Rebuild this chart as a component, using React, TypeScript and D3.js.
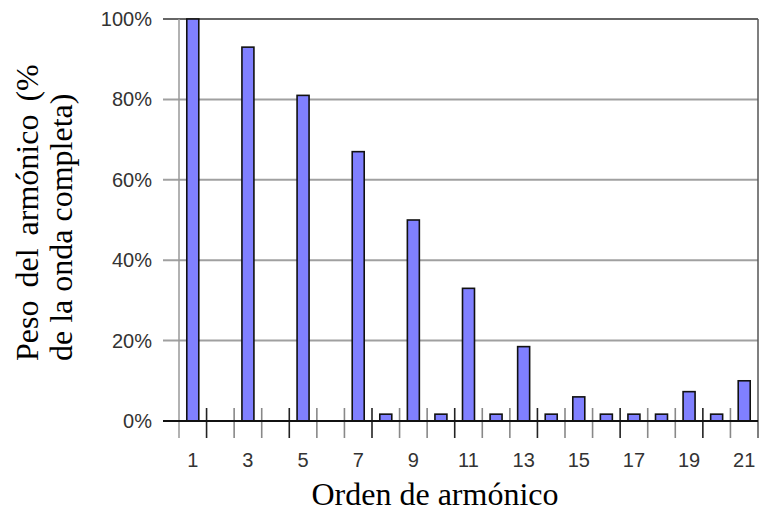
import React from "react";
import * as d3 from "d3";

const harmonics = [1,2,3,4,5,6,7,8,9,10,11,12,13,14,15,16,17,18,19,20,21];
const weights: (number | null)[] = [100, null, 93, null, 81, null, 67, 1.7, 50, 1.7, 33, 1.7, 18.5, 1.7, 6, 1.7, 1.7, 1.7, 7.3, 1.7, 10];
const xTickLabels = [1,3,5,7,9,11,13,15,17,19,21];
const yTicks = [0, 20, 40, 60, 80, 100];
const yTitleLines = ["Peso del armónico (%", "de la onda completa)"];
const xTitle = "Orden de armónico";

export default function App() {
  const W = 760, H = 511;
  const left = 179, right = 758, top = 19, bottom = 421;
  const x = d3.scaleBand<number>().domain(harmonics).range([left, right]).paddingInner(0.565).paddingOuter(0.2825);
  const y = d3.scaleLinear().domain([0, 100]).range([bottom, top]);
  const step = x.step();
  const boundaries = d3.range(1, harmonics.length).map(i => left + i * step);
  const sans = "'Liberation Sans', Arial, sans-serif";
  const serif = "'Liberation Serif', 'Times New Roman', serif";
  return (
    <svg width={W} height={H} style={{ position: "absolute", left: 0, top: 0, background: "#fff" }}>
      {yTicks.filter(t => t > 0).map(t => (
        <line key={t} x1={163} x2={right} y1={y(t)} y2={y(t)} stroke={t === 100 ? "#666" : "#a0a0a0"} strokeWidth={2} />
      ))}
      <line x1={left} x2={left} y1={top} y2={438} stroke="#999" strokeWidth={1.5} />
      <line x1={right} x2={right} y1={top} y2={438} stroke="#555" strokeWidth={1.5} />
      {boundaries.map((b, i) => (
        <line key={i} x1={b} x2={b} y1={408} y2={438} stroke={i % 3 === 0 ? "#222" : "#888"} strokeWidth={1.6} />
      ))}
      {harmonics.map((h, i) => {
        const v = weights[i];
        if (v == null) return null;
        return (
          <rect key={h} x={x(h)} y={y(v)} width={x.bandwidth()} height={y(0) - y(v)}
            fill="#8080ff" stroke="#111" strokeWidth={1.6} />
        );
      })}
      <line x1={163} x2={right} y1={y(0)} y2={y(0)} stroke="#111" strokeWidth={2} />
      {yTicks.map(t => (
        <text key={t} x={152} y={y(t) + 7} textAnchor="end" fontFamily={sans} fontSize={20} fill="#333">{t}%</text>
      ))}
      {xTickLabels.map(h => (
        <text key={h} x={(x(h) as number) + x.bandwidth() / 2} y={467} textAnchor="middle" fontFamily={sans} fontSize={20} fill="#333">{h}</text>
      ))}
      <text x={435} y={505} textAnchor="middle" fontFamily={serif} fontSize={32} fill="#000">{xTitle}</text>
      {yTitleLines.map((line, i) => (
        <text key={i} transform={`translate(${38 + i * 34},361) rotate(-90)`} textAnchor="start" fontFamily={serif} fontSize={32}
          wordSpacing={i === 0 ? 5 : 0} fill="#000">{line}</text>
      ))}
    </svg>
  );
}
